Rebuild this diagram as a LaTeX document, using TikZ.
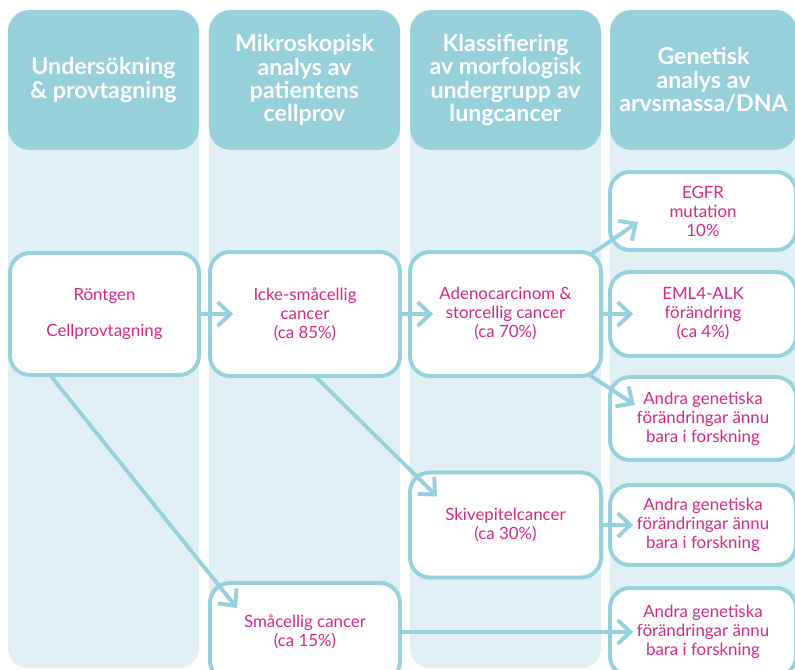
\documentclass[tikz,border=0pt]{standalone}
\usepackage{fontspec}
\setmainfont{Lato}
\usetikzlibrary{arrows.meta, positioning}

\definecolor{headblue}{HTML}{97D2DC}
\definecolor{lanebg}{HTML}{E1F0F4}
\definecolor{textpink}{HTML}{D42A85}

\begin{document}
\begin{tikzpicture}[
    x=0.025cm, y=-0.025cm,
    lane/.style={fill=lanebg, rounded corners=0.5cm},
    head/.style={rectangle, fill=headblue, rounded corners=0.55cm, minimum width=4.775cm,
                 minimum height=3.5cm, inner sep=0pt, text=white, align=center,
                 font=\fontsize{16.5}{16.5}\selectfont\bfseries},
    box/.style={rectangle, draw=headblue, line width=2.8pt, fill=white, rounded corners=0.5cm,
                minimum width=4.75cm, inner sep=0pt, outer sep=0pt, text=textpink,
                align=center, font=\fontsize{12}{13.5}\selectfont},
    arr/.style={-{Straight Barb[length=9pt, width=17pt]}, draw=headblue, line width=2.8pt},
]
\useasboundingbox (0,0) rectangle (795,670);
\clip (0,0) rectangle (795,670);

% ── Lanes ──
\fill[lane] (8,10) rectangle (199,668);
\fill[lane] (209,10) rectangle (400,668);
\fill[lane] (410,10) rectangle (601,668);
\fill[lane] (610,10) rectangle (797,668);

% ── Headers ──
\node[head] (h1) at (103.5,80) {Undersökning\\\& provtagning};
\node[head] (h2) at (304.5,80) {Mikroskopisk\\analys av\\patientens\\cellprov};
\node[head] (h3) at (505.5,80) {Klassifiering\\av morfologisk\\undergrupp av\\lungcancer};
\node[head, minimum width=4.675cm] (h4) at (703.5,80) {Genetisk\\analys av\\arvsmassa/DNA};

% ── Column 1 & 2 ──
\node[box, minimum width=4.725cm, minimum height=3.05cm] (ront) at (104.5,314)
    {Röntgen\\[0.42cm]Cellprovtagning};
\node[box, minimum height=3.1cm] (icke) at (305,314) {Icke-småcellig\\cancer\\(ca 85\%)};
\node[box, minimum height=2.45cm] (smac) at (305,632) {Småcellig cancer\\(ca 15\%)};

% ── Column 3 ──
\node[box, minimum width=4.775cm, minimum height=3.1cm] (adeno) at (505.5,314)
    {Adenocarcinom \&\\storcellig cancer\\(ca 70\%)};
\node[box, minimum width=4.775cm, minimum height=2.625cm] (skive) at (505.5,525)
    {Skivepitelcancer\\(ca 30\%)};

% ── Column 4 ──
\node[box, minimum width=4.65cm, minimum height=1.95cm] (egfr) at (703,211) {EGFR\\mutation\\10\%};
\node[box, minimum width=4.65cm, minimum height=2.1cm] (eml) at (703,314) {EML4-ALK\\förändring\\(ca 4\%)};
\node[box, minimum width=4.65cm, minimum height=2.075cm] (andra1) at (703,418.5)
    {Andra genetiska\\förändringar ännu\\bara i forskning};
\node[box, minimum width=4.65cm, minimum height=2cm] (andra2) at (703,525)
    {Andra genetiska\\förändringar ännu\\bara i forskning};
\node[box, minimum width=4.65cm, minimum height=2.2cm] (andra3) at (703,632)
    {Andra genetiska\\förändringar ännu\\bara i forskning};

% ── Arrows ──
\draw[arr] (ront.east) -- ([xshift=0.58cm]icke.west);
\draw[arr] (icke.east) -- ([xshift=0.58cm]adeno.west);
\draw[arr] (adeno.east) -- ([xshift=0.58cm]eml.west);
\draw[arr] (skive.east) -- ([xshift=0.58cm]andra2.west);
\draw[arr] (smac.east) -- ([xshift=0.58cm]andra3.west);
\draw[arr] ([shift={(-11,3)}]adeno.north east) -- ([shift={(28,-28)}]egfr.south west);
\draw[arr] ([shift={(-13,-2)}]adeno.south east) -- ([shift={(25,28)}]andra1.north west);
\draw[arr] ([xshift=0.25cm]icke.south) -- ([shift={(27,24)}]skive.north west);
\draw[arr] ([xshift=1cm]ront.south west) -- ([shift={(27,25)}]smac.north west);

\end{tikzpicture}
\end{document}
